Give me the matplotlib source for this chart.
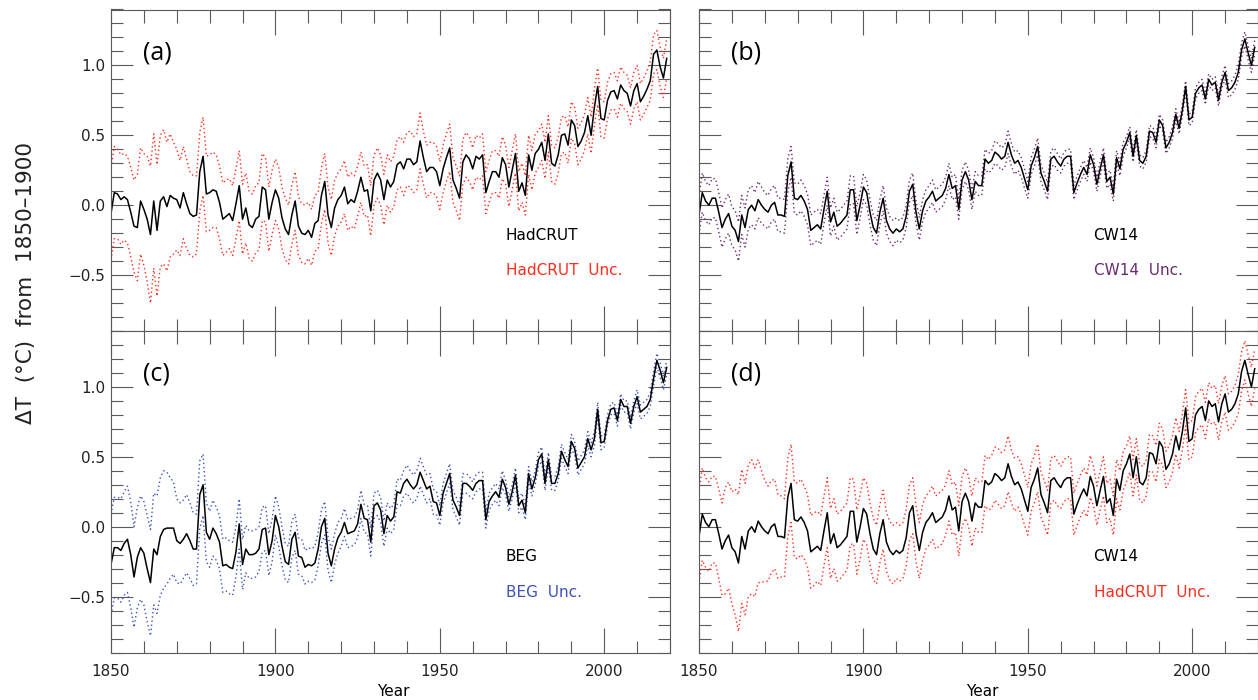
import numpy as np
import matplotlib
matplotlib.use('Agg')
import matplotlib.pyplot as plt
from matplotlib.ticker import MultipleLocator

years = np.arange(1850, 2020)

# annual anomalies, deg C from 1850-1900 (one row per decade)
hadcrut = [
    -0.06, 0.09, 0.08, 0.04, 0.06, 0.04, -0.05, -0.15, -0.16, 0.03,
    -0.03, -0.10, -0.21, 0.03, -0.18, 0.03, 0.06, -0.01, 0.07, 0.05,
    0.04, -0.02, 0.09, 0.01, -0.06, -0.08, -0.07, 0.24, 0.35, 0.08,
    0.09, 0.11, 0.10, 0.02, -0.10, -0.08, -0.06, -0.11, 0.01, 0.14,
    -0.10, -0.02, -0.14, -0.16, -0.10, -0.08, 0.13, 0.11, -0.10, 0.02,
    0.11, 0.05, -0.09, -0.17, -0.21, -0.07, 0.03, -0.15, -0.20, -0.21,
    -0.18, -0.23, -0.13, -0.11, 0.07, 0.17, -0.07, -0.16, -0.02, 0.04,
    0.07, 0.13, 0.01, 0.04, 0.02, 0.10, 0.20, 0.10, 0.11, -0.04,
    0.18, 0.23, 0.18, 0.04, 0.18, 0.13, 0.17, 0.29, 0.31, 0.26,
    0.33, 0.33, 0.29, 0.31, 0.46, 0.34, 0.24, 0.27, 0.27, 0.24,
    0.14, 0.26, 0.34, 0.41, 0.18, 0.12, 0.05, 0.31, 0.36, 0.33,
    0.26, 0.35, 0.33, 0.36, 0.09, 0.17, 0.24, 0.24, 0.20, 0.34,
    0.29, 0.13, 0.25, 0.37, 0.10, 0.16, 0.07, 0.36, 0.25, 0.37,
    0.40, 0.45, 0.32, 0.51, 0.30, 0.28, 0.36, 0.50, 0.51, 0.43,
    0.61, 0.57, 0.42, 0.46, 0.52, 0.64, 0.50, 0.70, 0.85, 0.62,
    0.61, 0.75, 0.81, 0.82, 0.76, 0.86, 0.82, 0.80, 0.71, 0.82,
    0.87, 0.74, 0.78, 0.83, 0.89, 1.08, 1.11, 0.99, 0.91, 1.05,
]
cw14 = [
    -0.07, 0.09, 0.03, 0.00, 0.05, 0.05, -0.05, -0.16, -0.10, -0.06,
    -0.15, -0.18, -0.26, -0.07, -0.16, -0.03, 0.00, -0.04, 0.04, 0.00,
    -0.03, -0.05, 0.00, 0.02, -0.07, -0.07, -0.08, 0.21, 0.31, 0.05,
    0.04, 0.07, 0.03, -0.03, -0.18, -0.16, -0.14, -0.17, -0.03, 0.10,
    -0.12, -0.05, -0.15, -0.13, -0.10, -0.07, 0.11, 0.11, -0.11, 0.00,
    0.13, 0.09, -0.05, -0.16, -0.20, -0.05, 0.05, -0.11, -0.17, -0.20,
    -0.17, -0.19, -0.17, -0.08, 0.10, 0.15, -0.05, -0.17, -0.04, 0.03,
    0.06, 0.10, 0.03, 0.05, 0.07, 0.12, 0.22, 0.12, 0.14, -0.03,
    0.18, 0.24, 0.18, 0.04, 0.17, 0.14, 0.14, 0.33, 0.30, 0.32,
    0.38, 0.36, 0.33, 0.35, 0.45, 0.36, 0.30, 0.32, 0.27, 0.19,
    0.11, 0.28, 0.34, 0.42, 0.23, 0.17, 0.10, 0.33, 0.35, 0.31,
    0.28, 0.33, 0.35, 0.35, 0.09, 0.16, 0.22, 0.27, 0.22, 0.36,
    0.29, 0.15, 0.26, 0.36, 0.17, 0.20, 0.08, 0.34, 0.26, 0.40,
    0.45, 0.52, 0.35, 0.50, 0.32, 0.30, 0.35, 0.53, 0.52, 0.45,
    0.61, 0.57, 0.41, 0.45, 0.52, 0.65, 0.55, 0.68, 0.85, 0.61,
    0.63, 0.80, 0.84, 0.86, 0.76, 0.90, 0.86, 0.88, 0.75, 0.88,
    0.95, 0.82, 0.84, 0.88, 0.95, 1.11, 1.19, 1.09, 1.00, 1.13,
]
beg = [
    -0.27, -0.15, -0.15, -0.17, -0.12, -0.09, -0.20, -0.36, -0.22, -0.15,
    -0.19, -0.30, -0.40, -0.16, -0.20, -0.07, -0.02, -0.01, -0.01, -0.01,
    -0.10, -0.12, -0.09, -0.05, -0.10, -0.16, -0.16, 0.23, 0.30, -0.04,
    -0.09, -0.01, -0.05, -0.11, -0.28, -0.27, -0.29, -0.30, -0.18, 0.02,
    -0.27, -0.16, -0.20, -0.20, -0.19, -0.16, -0.02, -0.01, -0.20, -0.10,
    0.08, 0.00, -0.14, -0.25, -0.27, -0.09, -0.04, -0.21, -0.22, -0.29,
    -0.27, -0.28, -0.26, -0.16, 0.00, 0.06, -0.19, -0.28, -0.16, -0.08,
    -0.04, 0.03, -0.05, -0.04, -0.03, 0.02, 0.16, 0.06, 0.05, -0.11,
    0.15, 0.17, 0.12, -0.05, 0.08, 0.04, 0.07, 0.25, 0.24, 0.31,
    0.34, 0.30, 0.27, 0.30, 0.39, 0.33, 0.27, 0.29, 0.18, 0.17,
    0.08, 0.24, 0.31, 0.38, 0.19, 0.14, 0.08, 0.31, 0.31, 0.29,
    0.26, 0.31, 0.33, 0.33, 0.05, 0.18, 0.22, 0.25, 0.21, 0.34,
    0.28, 0.16, 0.25, 0.37, 0.15, 0.19, 0.10, 0.38, 0.27, 0.35,
    0.48, 0.52, 0.31, 0.48, 0.31, 0.31, 0.38, 0.54, 0.48, 0.43,
    0.61, 0.56, 0.42, 0.46, 0.50, 0.63, 0.55, 0.63, 0.84, 0.60,
    0.61, 0.76, 0.84, 0.85, 0.76, 0.91, 0.86, 0.86, 0.74, 0.86,
    0.93, 0.82, 0.84, 0.86, 0.91, 1.06, 1.19, 1.12, 1.03, 1.14,
]

# uncertainty half-widths (deg C)
hadcrut_unc = [
    0.33, 0.33, 0.32, 0.32, 0.31, 0.31, 0.32, 0.33, 0.38, 0.38,
    0.40, 0.45, 0.49, 0.48, 0.47, 0.47, 0.48, 0.46, 0.44, 0.40,
    0.36, 0.34, 0.33, 0.32, 0.30, 0.29, 0.28, 0.28, 0.28, 0.27,
    0.27, 0.27, 0.26, 0.26, 0.26, 0.26, 0.25, 0.25, 0.25, 0.25,
    0.25, 0.25, 0.24, 0.24, 0.24, 0.24, 0.24, 0.23, 0.23, 0.23,
    0.22, 0.22, 0.22, 0.22, 0.21, 0.21, 0.21, 0.21, 0.21, 0.21,
    0.20, 0.20, 0.20, 0.20, 0.20, 0.20, 0.20, 0.20, 0.20, 0.19,
    0.19, 0.19, 0.19, 0.19, 0.19, 0.18, 0.18, 0.18, 0.18, 0.18,
    0.18, 0.18, 0.18, 0.18, 0.18, 0.18, 0.18, 0.18, 0.18, 0.19,
    0.19, 0.20, 0.20, 0.20, 0.20, 0.19, 0.19, 0.18, 0.18, 0.18,
    0.17, 0.17, 0.17, 0.17, 0.16, 0.16, 0.16, 0.16, 0.16, 0.16,
    0.15, 0.15, 0.15, 0.15, 0.15, 0.15, 0.15, 0.15, 0.15, 0.15,
    0.14, 0.14, 0.14, 0.14, 0.14, 0.14, 0.14, 0.14, 0.14, 0.14,
    0.13, 0.13, 0.13, 0.13, 0.13, 0.13, 0.13, 0.13, 0.13, 0.13,
    0.13, 0.13, 0.13, 0.13, 0.13, 0.13, 0.13, 0.13, 0.13, 0.13,
    0.13, 0.13, 0.13, 0.13, 0.13, 0.13, 0.13, 0.13, 0.13, 0.13,
    0.13, 0.13, 0.13, 0.13, 0.14, 0.14, 0.14, 0.14, 0.14, 0.14,
]
cw14_unc = [
    0.14, 0.14, 0.14, 0.14, 0.14, 0.14, 0.14, 0.14, 0.14, 0.14,
    0.14, 0.14, 0.14, 0.14, 0.14, 0.14, 0.14, 0.13, 0.13, 0.13,
    0.12, 0.12, 0.12, 0.12, 0.12, 0.12, 0.12, 0.12, 0.11, 0.11,
    0.11, 0.11, 0.11, 0.11, 0.11, 0.11, 0.11, 0.11, 0.10, 0.10,
    0.10, 0.10, 0.10, 0.10, 0.10, 0.10, 0.10, 0.10, 0.10, 0.09,
    0.09, 0.09, 0.09, 0.09, 0.09, 0.09, 0.09, 0.09, 0.09, 0.09,
    0.08, 0.08, 0.08, 0.08, 0.08, 0.08, 0.08, 0.08, 0.08, 0.08,
    0.08, 0.08, 0.08, 0.08, 0.08, 0.08, 0.08, 0.08, 0.08, 0.07,
    0.07, 0.07, 0.07, 0.07, 0.07, 0.07, 0.07, 0.07, 0.07, 0.07,
    0.08, 0.08, 0.08, 0.08, 0.08, 0.08, 0.08, 0.07, 0.07, 0.07,
    0.06, 0.06, 0.06, 0.06, 0.06, 0.06, 0.06, 0.06, 0.06, 0.06,
    0.05, 0.05, 0.05, 0.05, 0.05, 0.05, 0.05, 0.05, 0.05, 0.05,
    0.05, 0.05, 0.05, 0.05, 0.05, 0.05, 0.05, 0.05, 0.05, 0.05,
    0.04, 0.04, 0.04, 0.04, 0.04, 0.04, 0.04, 0.04, 0.04, 0.04,
    0.04, 0.04, 0.04, 0.04, 0.04, 0.04, 0.04, 0.04, 0.04, 0.04,
    0.04, 0.04, 0.04, 0.04, 0.04, 0.04, 0.04, 0.04, 0.04, 0.04,
    0.05, 0.05, 0.05, 0.05, 0.05, 0.05, 0.05, 0.05, 0.05, 0.05,
]
beg_unc = [
    0.36, 0.36, 0.36, 0.37, 0.37, 0.38, 0.38, 0.36, 0.36, 0.37,
    0.37, 0.38, 0.38, 0.40, 0.42, 0.42, 0.42, 0.40, 0.36, 0.33,
    0.30, 0.29, 0.28, 0.28, 0.27, 0.26, 0.25, 0.24, 0.22, 0.21,
    0.20, 0.20, 0.19, 0.19, 0.19, 0.19, 0.19, 0.19, 0.18, 0.18,
    0.18, 0.17, 0.17, 0.17, 0.17, 0.16, 0.16, 0.16, 0.15, 0.15,
    0.14, 0.14, 0.14, 0.13, 0.13, 0.13, 0.13, 0.13, 0.13, 0.12,
    0.12, 0.12, 0.12, 0.12, 0.12, 0.12, 0.12, 0.12, 0.11, 0.11,
    0.10, 0.10, 0.10, 0.10, 0.10, 0.10, 0.10, 0.10, 0.10, 0.10,
    0.09, 0.09, 0.09, 0.09, 0.09, 0.09, 0.09, 0.09, 0.09, 0.09,
    0.10, 0.10, 0.10, 0.10, 0.10, 0.10, 0.10, 0.09, 0.09, 0.08,
    0.07, 0.07, 0.07, 0.07, 0.07, 0.07, 0.07, 0.07, 0.07, 0.07,
    0.06, 0.06, 0.06, 0.06, 0.06, 0.06, 0.06, 0.06, 0.06, 0.06,
    0.05, 0.05, 0.05, 0.05, 0.05, 0.05, 0.05, 0.05, 0.05, 0.05,
    0.05, 0.05, 0.05, 0.05, 0.05, 0.05, 0.05, 0.05, 0.05, 0.05,
    0.05, 0.05, 0.05, 0.05, 0.05, 0.05, 0.05, 0.05, 0.05, 0.05,
    0.04, 0.04, 0.04, 0.04, 0.04, 0.04, 0.04, 0.04, 0.04, 0.04,
    0.05, 0.05, 0.05, 0.05, 0.05, 0.05, 0.05, 0.05, 0.05, 0.05,
]

red = '#ff2d1f'
purple = '#6a2a6e'
blue = '#3a52bf'
frame = '#5a5a5a'

panels = [
    ('(a)', hadcrut, hadcrut_unc, 'HadCRUT', 'HadCRUT  Unc.', red),
    ('(b)', cw14, cw14_unc, 'CW14', 'CW14  Unc.', purple),
    ('(c)', beg, beg_unc, 'BEG', 'BEG  Unc.', blue),
    ('(d)', cw14, hadcrut_unc, 'CW14', 'HadCRUT  Unc.', red),
]

W, H = 1258, 700
fig = plt.figure(figsize=(W / 100, H / 100), dpi=100)

lefts = [111 / W, 699 / W]
bottoms = [1 - 331 / H, 1 - 652.5 / H]
aw = 559 / W
ah = 321.5 / H

for i, (tag, mean, unc, name, unc_name, col) in enumerate(panels):
    row, c = divmod(i, 2)
    ax = fig.add_axes([lefts[c], bottoms[row], aw, ah])
    mean = np.array(mean)
    unc = np.array(unc)
    ax.plot(years, mean + unc, color=col, lw=1.0, ls=(0, (1, 2)))
    ax.plot(years, mean - unc, color=col, lw=1.0, ls=(0, (1, 2)))
    ax.plot(years, mean, color='black', lw=1.1)

    ax.set_xlim(1850, 2020)
    ax.set_ylim(-0.9, 1.4)
    ax.xaxis.set_major_locator(MultipleLocator(50))
    ax.xaxis.set_minor_locator(MultipleLocator(10))
    ax.yaxis.set_major_locator(MultipleLocator(0.5))
    ax.yaxis.set_minor_locator(MultipleLocator(0.1))
    ax.tick_params(which='both', direction='in', top=True, right=True,
                   color=frame, width=0.8, labelsize=11, labelcolor='#222222')
    ax.tick_params(axis='x', which='major', length=18, pad=8)
    ax.tick_params(axis='x', which='minor', length=9)
    ax.tick_params(axis='y', which='major', length=16, pad=4)
    ax.tick_params(axis='y', which='minor', length=8.5)
    for s in ax.spines.values():
        s.set_color(frame)
        s.set_linewidth(0.8)
    if c == 1:
        ax.set_yticklabels([])
    else:
        ax.yaxis.set_major_formatter(plt.FuncFormatter(lambda v, p: f'{v:.1f}'.replace('-', '\u2212')))
    if row == 0:
        ax.set_xticklabels([])

    ax.text(1859.7, 1.09, tag, fontsize=18, family='Open Sans', va='center', ha='left')
    ax.text(1970, -0.214, name, fontsize=11, color='black', va='center', ha='left')
    ax.text(1970, -0.47, unc_name, fontsize=11, color=col, va='center', ha='left')

fig.text(393 / W, 1 - 692 / H, 'Year', ha='center', va='center', fontsize=11)
fig.text(982 / W, 1 - 692 / H, 'Year', ha='center', va='center', fontsize=11)
fig.text(26 / W, 1 - 283 / H, 'ΔT  (°C)  from  1850–1900', rotation=90,
         ha='center', va='center', fontsize=15.5, color='#222222')

fig.savefig('out.png', dpi=100)
